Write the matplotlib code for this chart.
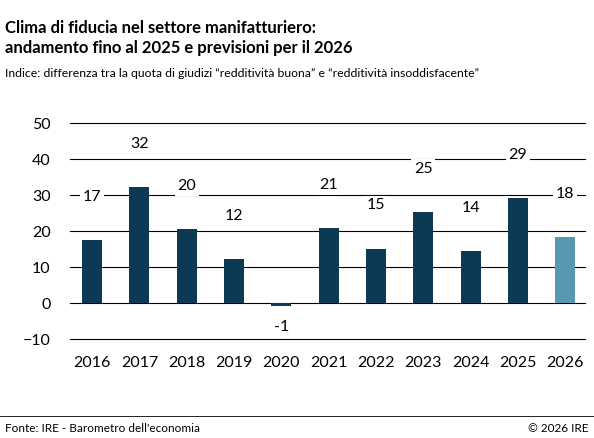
import matplotlib.pyplot as plt

plt.rcParams['font.family'] = ['Lato', 'DejaVu Sans']

years = ['2016', '2017', '2018', '2019', '2020', '2021', '2022', '2023', '2024', '2025', '2026']
values = [17.5, 32.2, 20.5, 12.3, -0.7, 20.8, 15.1, 25.3, 14.4, 29.1, 18.4]
labels = ['17', '32', '20', '12', '-1', '21', '15', '25', '14', '29', '18']

dark = '#0c3a54'
light = '#5a97b3'
colors = [dark] * 10 + [light]

fig = plt.figure(figsize=(5.94, 4.38), dpi=100)
ax = fig.add_axes([0.118, 0.226, 0.867, 0.493])

x = list(range(len(years)))
for yv in range(-10, 51, 10):
    ax.axhline(yv, color='black', lw=0.8, zorder=0, clip_on=False)
ax.bar(x, values, width=0.42, color=colors, zorder=2)

# value labels sit above the bar, breaking the gridlines
for i, (v, lab) in enumerate(zip(values, labels)):
    ypos = v + 12 if v >= 0 else v - 6
    ax.text(i, ypos, lab, ha='center', va='center', fontsize=11.5,
            bbox=dict(facecolor='white', edgecolor='none', pad=2), zorder=3)

ax.set_xlim(-0.465, 10.42)
ax.set_ylim(-10, 50)
ax.set_yticks(range(-10, 51, 10))
ax.set_xticks(x)
ax.set_xticklabels(years)
ax.tick_params(length=0, labelsize=11.5)
ax.tick_params(axis='y', pad=14)
ax.tick_params(axis='x', pad=12)
for s in ax.spines.values():
    s.set_visible(False)

fig.text(0.008, 0.955, 'Clima di fiducia nel settore manifatturiero:\nandamento fino al 2025 e previsioni per il 2026',
         fontsize=12, fontweight='bold', va='top', linespacing=1.3)
fig.text(0.008, 0.845, 'Indice: differenza tra la quota di giudizi \u201credditivit\u00e0 buona\u201d e \u201credditivit\u00e0 insoddisfacente\u201d',
         fontsize=8.8, va='top')
fig.add_artist(plt.Line2D([0, 1], [0.05, 0.05], color='black', lw=0.6))
fig.text(0.008, 0.022, "Fonte: IRE - Barometro dell'economia", fontsize=8.5, va='center')
fig.text(0.99, 0.022, '\u00a9 2026 IRE', fontsize=8.5, va='center', ha='right')

fig.savefig('out.png', dpi=100)
